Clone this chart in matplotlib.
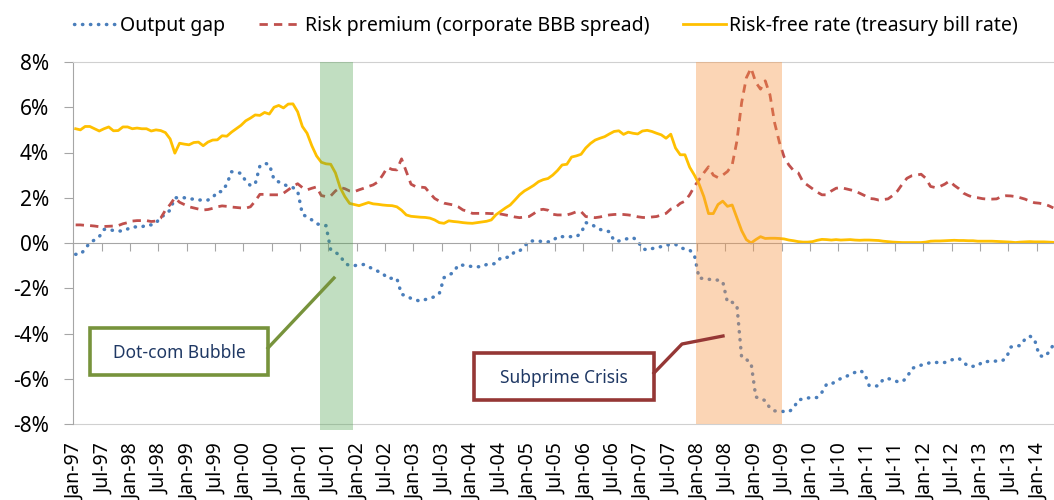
import matplotlib
matplotlib.use('Agg')

import matplotlib.pyplot as plt
import numpy as np
from matplotlib.patches import Rectangle
from matplotlib.lines import Line2D
from matplotlib.ticker import FuncFormatter

plt.rcParams['font.family'] = ['Noto Sans', 'DejaVu Sans']

# monthly data, Jan-97 .. Apr-14 (values in %)
output_gap = [
    -0.5, -0.5, -0.28, 0.03, 0.13, 0.28, 0.6, 0.6, 0.55, 0.53, 0.53, 0.62,          # 1997
    0.71, 0.71, 0.71, 0.8, 0.8, 0.87, 1.16, 1.24, 1.46, 2.0, 2.0, 2.0,              # 1998
    1.95, 1.94, 1.9, 1.9, 1.9, 2.0, 2.27, 2.27, 2.6, 3.15, 3.12, 3.08,              # 1999
    2.74, 2.54, 2.6, 3.4, 3.52, 3.48, 2.8, 2.7, 2.6, 2.5, 2.45, 2.3,                # 2000
    1.27, 1.15, 1.02, 0.85, 0.8, 0.77, -0.3, -0.41, -0.56, -0.9, -1.0, -1.0,        # 2001
    -0.97, -0.95, -1.05, -1.15, -1.25, -1.34, -1.56, -1.56, -1.56, -2.27, -2.33, -2.45,  # 2002
    -2.52, -2.57, -2.5, -2.45, -2.37, -2.23, -1.53, -1.42, -1.3, -0.97, -0.98, -1.0,     # 2003
    -1.05, -1.05, -1.05, -0.95, -0.94, -0.9, -0.65, -0.65, -0.6, -0.37, -0.35, -0.15,    # 2004
    0.09, 0.09, 0.09, 0.05, 0.05, 0.09, 0.28, 0.28, 0.28, 0.28, 0.28, 0.43,         # 2005
    0.9, 0.85, 0.72, 0.6, 0.55, 0.5, 0.1, 0.09, 0.15, 0.2, 0.24, 0.09,              # 2006
    -0.25, -0.31, -0.25, -0.2, -0.16, -0.09, -0.07, -0.06, -0.2, -0.27, -0.31, -0.53,    # 2007
    -1.56, -1.56, -1.6, -1.64, -1.64, -1.7, -2.62, -2.62, -2.75, -5.05, -5.15, -5.3,     # 2008
    -6.8, -6.9, -6.96, -7.3, -7.42, -7.43, -7.45, -7.46, -7.3, -6.93, -6.9, -6.85,       # 2009
    -6.83, -6.83, -6.6, -6.24, -6.24, -6.1, -5.99, -5.92, -5.8, -5.72, -5.63, -5.75,     # 2010
    -6.3, -6.33, -6.31, -6.02, -5.99, -6.05, -6.13, -6.13, -5.95, -5.55, -5.47, -5.4,    # 2011
    -5.35, -5.28, -5.28, -5.28, -5.28, -5.2, -5.13, -5.1, -5.28, -5.45, -5.45, -5.43,    # 2012
    -5.25, -5.24, -5.22, -5.22, -5.22, -5.1, -4.6, -4.54, -4.54, -4.25, -4.11, -4.25,    # 2013
    -4.96, -5.04, -4.84, -4.5,                                                      # 2014
]

risk_premium = [
    0.8, 0.8, 0.78, 0.77, 0.75, 0.72, 0.73, 0.74, 0.75, 0.77, 0.85, 0.9,
    0.97, 0.99, 0.99, 0.99, 0.95, 0.97, 1.1, 1.45, 1.7, 2.0, 1.8, 1.7,
    1.6, 1.55, 1.5, 1.46, 1.48, 1.53, 1.6, 1.64, 1.62, 1.59, 1.57, 1.55,
    1.54, 1.6, 1.85, 2.15, 2.15, 2.13, 2.13, 2.13, 2.2, 2.35, 2.5, 2.62,
    2.45, 2.35, 2.42, 2.48, 2.1, 2.05, 2.08, 2.3, 2.45, 2.4, 2.3, 2.27,
    2.35, 2.42, 2.5, 2.57, 2.7, 3.0, 3.34, 3.25, 3.23, 3.72, 3.16, 2.6,
    2.49, 2.47, 2.45, 2.2, 1.97, 1.85, 1.76, 1.72, 1.68, 1.6, 1.46, 1.4,
    1.31, 1.31, 1.31, 1.31, 1.3, 1.31, 1.28, 1.24, 1.2, 1.15, 1.12, 1.15,
    1.17, 1.3, 1.46, 1.49, 1.45, 1.27, 1.24, 1.24, 1.24, 1.3, 1.38, 1.39,
    1.17, 1.14, 1.12, 1.15, 1.2, 1.24, 1.26, 1.27, 1.26, 1.24, 1.21, 1.16,
    1.13, 1.12, 1.15, 1.17, 1.24, 1.31, 1.5, 1.57, 1.75, 1.85, 2.13, 2.5,
    2.8, 3.1, 3.37, 3.0, 2.89, 3.0, 3.16, 3.45, 4.5, 6.2, 7.3, 7.73,
    7.1, 6.8, 7.17, 6.55, 5.3, 4.45, 3.8, 3.45, 3.2, 3.1, 2.7, 2.55,
    2.4, 2.25, 2.13, 2.13, 2.3, 2.42, 2.45, 2.4, 2.35, 2.3, 2.2, 2.1,
    1.97, 1.95, 1.9, 1.92, 1.95, 2.1, 2.3, 2.6, 2.86, 2.97, 3.0, 3.04,
    2.86, 2.5, 2.45, 2.5, 2.6, 2.74, 2.55, 2.4, 2.2, 2.1, 2.02, 2.0,
    1.96, 1.94, 1.94, 1.95, 2.05, 2.09, 2.08, 2.05, 2.0, 1.94, 1.85, 1.78,
    1.76, 1.72, 1.65, 1.55,
]

risk_free = [
    5.05, 5.0, 5.15, 5.15, 5.05, 4.95, 5.05, 5.13, 4.96, 4.97, 5.13, 5.13,
    5.05, 5.08, 5.05, 5.05, 4.95, 5.0, 4.97, 4.88, 4.6, 3.97, 4.41, 4.37,
    4.34, 4.44, 4.46, 4.3, 4.46, 4.55, 4.56, 4.74, 4.72, 4.9, 5.05, 5.2,
    5.4, 5.52, 5.66, 5.64, 5.77, 5.7, 6.0, 6.08, 5.97, 6.14, 6.15, 5.8,
    5.15, 4.85, 4.3, 3.85, 3.57, 3.5, 3.48, 3.1, 2.45, 2.05, 1.75, 1.7,
    1.65, 1.72, 1.79, 1.73, 1.71, 1.68, 1.66, 1.65, 1.6, 1.45, 1.24, 1.18,
    1.16, 1.14, 1.13, 1.1, 1.02, 0.9, 0.87, 0.98, 0.95, 0.93, 0.9, 0.88,
    0.87, 0.9, 0.93, 0.96, 1.02, 1.25, 1.4, 1.55, 1.68, 1.9, 2.13, 2.3,
    2.42, 2.55, 2.71, 2.8, 2.85, 3.0, 3.2, 3.45, 3.48, 3.8, 3.85, 3.92,
    4.2, 4.4, 4.55, 4.63, 4.7, 4.82, 4.93, 4.96, 4.8, 4.9, 4.85, 4.82,
    4.95, 4.98, 4.93, 4.85, 4.78, 4.63, 4.81, 4.2, 3.9, 3.9, 3.35, 3.0,
    2.6, 2.05, 1.3, 1.3, 1.7, 1.85, 1.62, 1.68, 1.12, 0.55, 0.15, 0.0,
    0.15, 0.28, 0.2, 0.21, 0.21, 0.2, 0.18, 0.13, 0.1, 0.06, 0.04, 0.04,
    0.06, 0.12, 0.16, 0.15, 0.13, 0.15, 0.13, 0.14, 0.15, 0.13, 0.12, 0.13,
    0.13, 0.12, 0.11, 0.08, 0.06, 0.04, 0.03, 0.02, 0.02, 0.02, 0.02, 0.02,
    0.04, 0.08, 0.09, 0.09, 0.1, 0.11, 0.12, 0.11, 0.11, 0.1, 0.1, 0.08,
    0.08, 0.08, 0.08, 0.07, 0.06, 0.05, 0.04, 0.02, 0.04, 0.05, 0.06, 0.05,
    0.05, 0.05, 0.04, 0.03,
]

# one label every six months, Jan-97 .. Jan-14
tick_labels = [f"{m}-{y % 100:02d}" for y in range(1997, 2015) for m in ("Jan", "Jul")][:35]

# crisis windows (month index)
dotcom_span = (51.7, 58.7)
subprime_span = (131.3, 149.6)

W, H = 1054, 500
fig = plt.figure(figsize=(W / 100, H / 100), dpi=100)
ax = fig.add_axes([73.3 / W, 76 / H, (W - 73.3) / W, 362 / H])

x = np.arange(len(output_gap))
l1, = ax.plot(x, output_gap, color='#4a7ebb', lw=2.5, linestyle=(0, (0.1, 2.2)),
              dash_capstyle='round', label='Output gap', zorder=2)
l2, = ax.plot(x, risk_premium, color='#c0504d', lw=2.0, linestyle=(0, (3, 2.2)),
              label='Risk premium (corporate BBB spread)', zorder=2)
l3, = ax.plot(x, risk_free, color='#ffc000', lw=2.0,
              label='Risk-free rate (treasury bill rate)', zorder=2)

ax.axvspan(*dotcom_span, ymin=-0.017, ymax=1, color='#4ea24e', alpha=0.35, lw=0,
           zorder=3, clip_on=False)
ax.axvspan(*subprime_span, color='#f79646', alpha=0.4, lw=0, zorder=3)

ax.set_xlim(-0.5, 207.14)
ax.set_ylim(-8, 8)
ax.set_yticks(np.arange(-8, 9, 2))
ax.yaxis.set_major_formatter(FuncFormatter(lambda v, p: f"{v:.0f}%"))
ax.tick_params(axis='y', direction='out', length=6.5, color='#a6a6a6', pad=11,
               labelsize=15, labelcolor='black')

ax.spines['right'].set_visible(False)
ax.spines['top'].set_color('#d0d0d0')
ax.spines['left'].set_color('#a6a6a6')
ax.spines['bottom'].set_position(('data', 0))
ax.spines['bottom'].set_color('#a6a6a6')
ax.set_xticks(np.arange(-0.5, 208, 6))
ax.set_xticklabels([])
ax.tick_params(axis='x', direction='out', length=6, color='#a6a6a6')

sec = ax.secondary_xaxis(0)
sec.set_xticks(np.arange(0, 208, 6), labels=tick_labels)
sec.tick_params(length=0, pad=14, labelsize=14, rotation=90)
sec.spines['bottom'].set_color('#d0d0d0')

fig.legend(handles=[l1, l2, l3], loc='center', bbox_to_anchor=(0.518, 0.948),
           ncol=3, frameon=False, fontsize=14, handlelength=2.2,
           handletextpad=0.2, columnspacing=1.7)


def fx(px):
    return px / W


def fy(py):
    return 1 - py / H


# annotation boxes
green = '#77933c'
red = '#953735'
fig.add_artist(Rectangle((fx(90), fy(375)), fx(268) - fx(90), fy(328) - fy(375),
                         transform=fig.transFigure, fill=False, ec=green, lw=2.6))
fig.text(fx(179), fy(353), 'Dot-com Bubble', ha='center', va='center',
         color='#1f3864', fontsize=12.5)
fig.add_artist(Line2D([fx(268), fx(334)], [fy(348), fy(278)],
                      transform=fig.transFigure, color=green, lw=2.4))

fig.add_artist(Rectangle((fx(474), fy(400)), fx(654) - fx(474), fy(353) - fy(400),
                         transform=fig.transFigure, fill=False, ec=red, lw=2.6))
fig.text(fx(564), fy(378), 'Subprime Crisis', ha='center', va='center',
         color='#1f3864', fontsize=12.5)
fig.add_artist(Line2D([fx(654), fx(682), fx(723)], [fy(373), fy(344), fy(336)],
                      transform=fig.transFigure, color=red, lw=2.4))

fig.savefig('out.png', dpi=100)
